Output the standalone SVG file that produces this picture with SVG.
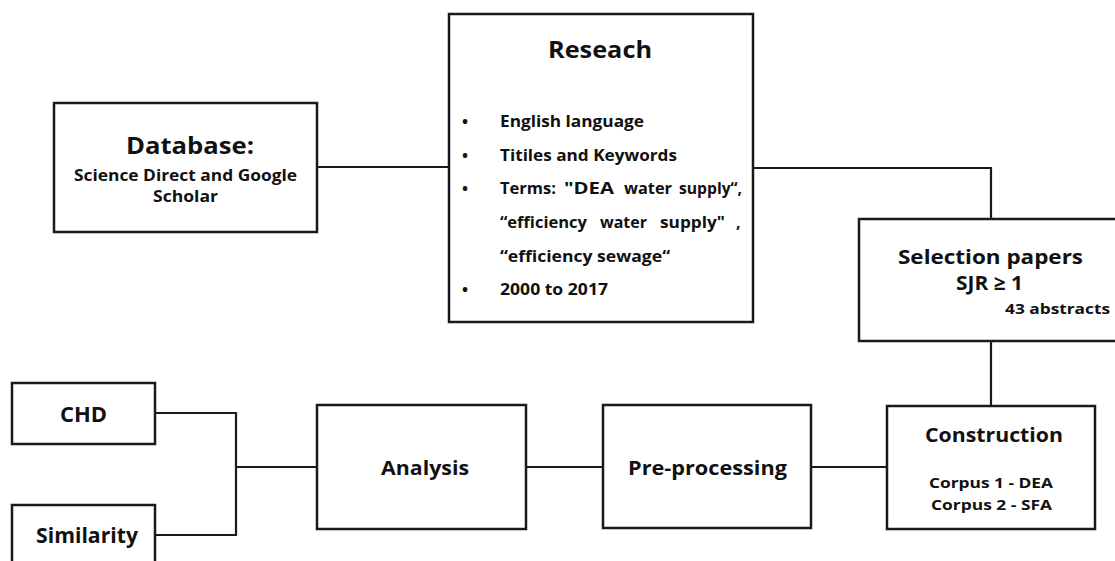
<svg xmlns="http://www.w3.org/2000/svg" width="1115" height="561" viewBox="0 0 1115 561">
  <style>
    .box { fill: #ffffff; stroke: #1a1a1a; stroke-width: 2.5; }
    .wire { fill: none; stroke: #1a1a1a; stroke-width: 2.2; }
    text { font-family: "Open Sans", "Noto Sans", "Liberation Sans", sans-serif; font-weight: 700; fill: #111111; }
    .t1 { font-size: 24px; }
    .t2 { font-size: 21px; }
    .t3 { font-size: 20px; }
    .b { font-size: 16px; }
    .s { font-size: 16px; }
    .c { font-size: 14px; }
  </style>
  <rect width="1115" height="561" fill="#ffffff"/>

  <!-- connectors -->
  <g id="connectors">
    <path class="wire" d="M317,167 H449"/>
    <path class="wire" d="M753,168 H991 V219"/>
    <path class="wire" d="M991,341 V406"/>
    <path class="wire" d="M811,467 H887"/>
    <path class="wire" d="M526,467 H603"/>
    <path class="wire" d="M317,467 H236"/>
    <path class="wire" d="M155,413 H236 V535 H155"/>
  </g>

  <!-- Database -->
  <g id="database">
    <rect class="box" x="54" y="103" width="263" height="129"/>
    <text class="t1" x="126" y="154" textLength="128" lengthAdjust="spacingAndGlyphs">Database:</text>
    <text class="s" x="74" y="181" textLength="223" lengthAdjust="spacingAndGlyphs">Science Direct and Google</text>
    <text class="s" x="153" y="202" textLength="65" lengthAdjust="spacingAndGlyphs">Scholar</text>
  </g>

  <!-- Research criteria -->
  <g id="research">
    <rect class="box" x="449" y="14" width="304" height="308"/>
    <text class="t1" x="548" y="58" textLength="104" lengthAdjust="spacingAndGlyphs">Reseach</text>
    <text class="b" x="462" y="127">•</text>
    <text class="b" x="500" y="127" textLength="144" lengthAdjust="spacingAndGlyphs">English language</text>
    <text class="b" x="462" y="161">•</text>
    <text class="b" x="500" y="161" textLength="177" lengthAdjust="spacingAndGlyphs">Titiles and Keywords</text>
    <text class="b" x="462" y="194">•</text>
    <!-- justified lines: words placed one by one -->
    <text class="b" x="500" y="194" textLength="56" lengthAdjust="spacingAndGlyphs">Terms:</text>
    <text class="b" x="564" y="194" textLength="50" lengthAdjust="spacingAndGlyphs">"DEA</text>
    <text class="b" x="624" y="194" textLength="48" lengthAdjust="spacingAndGlyphs">water</text>
    <text class="b" x="679" y="194" textLength="63" lengthAdjust="spacingAndGlyphs">supply“,</text>
    <text class="b" x="500" y="228" textLength="87" lengthAdjust="spacingAndGlyphs">“efficiency</text>
    <text class="b" x="600" y="228" textLength="47" lengthAdjust="spacingAndGlyphs">water</text>
    <text class="b" x="660" y="228" textLength="65" lengthAdjust="spacingAndGlyphs">supply"</text>
    <text class="b" x="736" y="228">,</text>
    <text class="b" x="500" y="262" textLength="170" lengthAdjust="spacingAndGlyphs">“efficiency sewage“</text>
    <text class="b" x="462" y="295">•</text>
    <text class="b" x="500" y="295" textLength="108" lengthAdjust="spacingAndGlyphs">2000 to 2017</text>
  </g>

  <!-- Selection papers -->
  <g id="selection">
    <rect class="box" x="859" y="219" width="264" height="122"/>
    <text class="t3" x="898" y="264" textLength="185" lengthAdjust="spacingAndGlyphs">Selection papers</text>
    <text class="t3" x="956" y="290" textLength="67" lengthAdjust="spacingAndGlyphs">SJR ≥ 1</text>
    <text class="c" x="1005" y="314" textLength="105" lengthAdjust="spacingAndGlyphs">43 abstracts</text>
  </g>

  <!-- Construction -->
  <g id="construction">
    <rect class="box" x="887" y="406" width="208" height="123"/>
    <text class="t3" x="925" y="442" textLength="138" lengthAdjust="spacingAndGlyphs">Construction</text>
    <text class="c" x="929" y="488" textLength="124" lengthAdjust="spacingAndGlyphs">Corpus 1 - DEA</text>
    <text class="c" x="931" y="510" textLength="121" lengthAdjust="spacingAndGlyphs">Corpus 2 - SFA</text>
  </g>

  <!-- Pre-processing -->
  <g id="preprocessing">
    <rect class="box" x="603" y="405" width="208" height="123"/>
    <text class="t3" x="628" y="475" textLength="159" lengthAdjust="spacingAndGlyphs">Pre-processing</text>
  </g>

  <!-- Analysis -->
  <g id="analysis">
    <rect class="box" x="317" y="405" width="209" height="124"/>
    <text class="t3" x="381" y="475" textLength="88" lengthAdjust="spacingAndGlyphs">Analysis</text>
  </g>

  <!-- CHD -->
  <g id="chd">
    <rect class="box" x="12" y="383" width="143" height="61"/>
    <text class="t2" x="60" y="422" textLength="47" lengthAdjust="spacingAndGlyphs">CHD</text>
  </g>

  <!-- Similarity -->
  <g id="similarity">
    <rect class="box" x="12" y="505" width="143" height="70"/>
    <text class="t2" x="36" y="543" textLength="102" lengthAdjust="spacingAndGlyphs">Similarity</text>
  </g>
</svg>
